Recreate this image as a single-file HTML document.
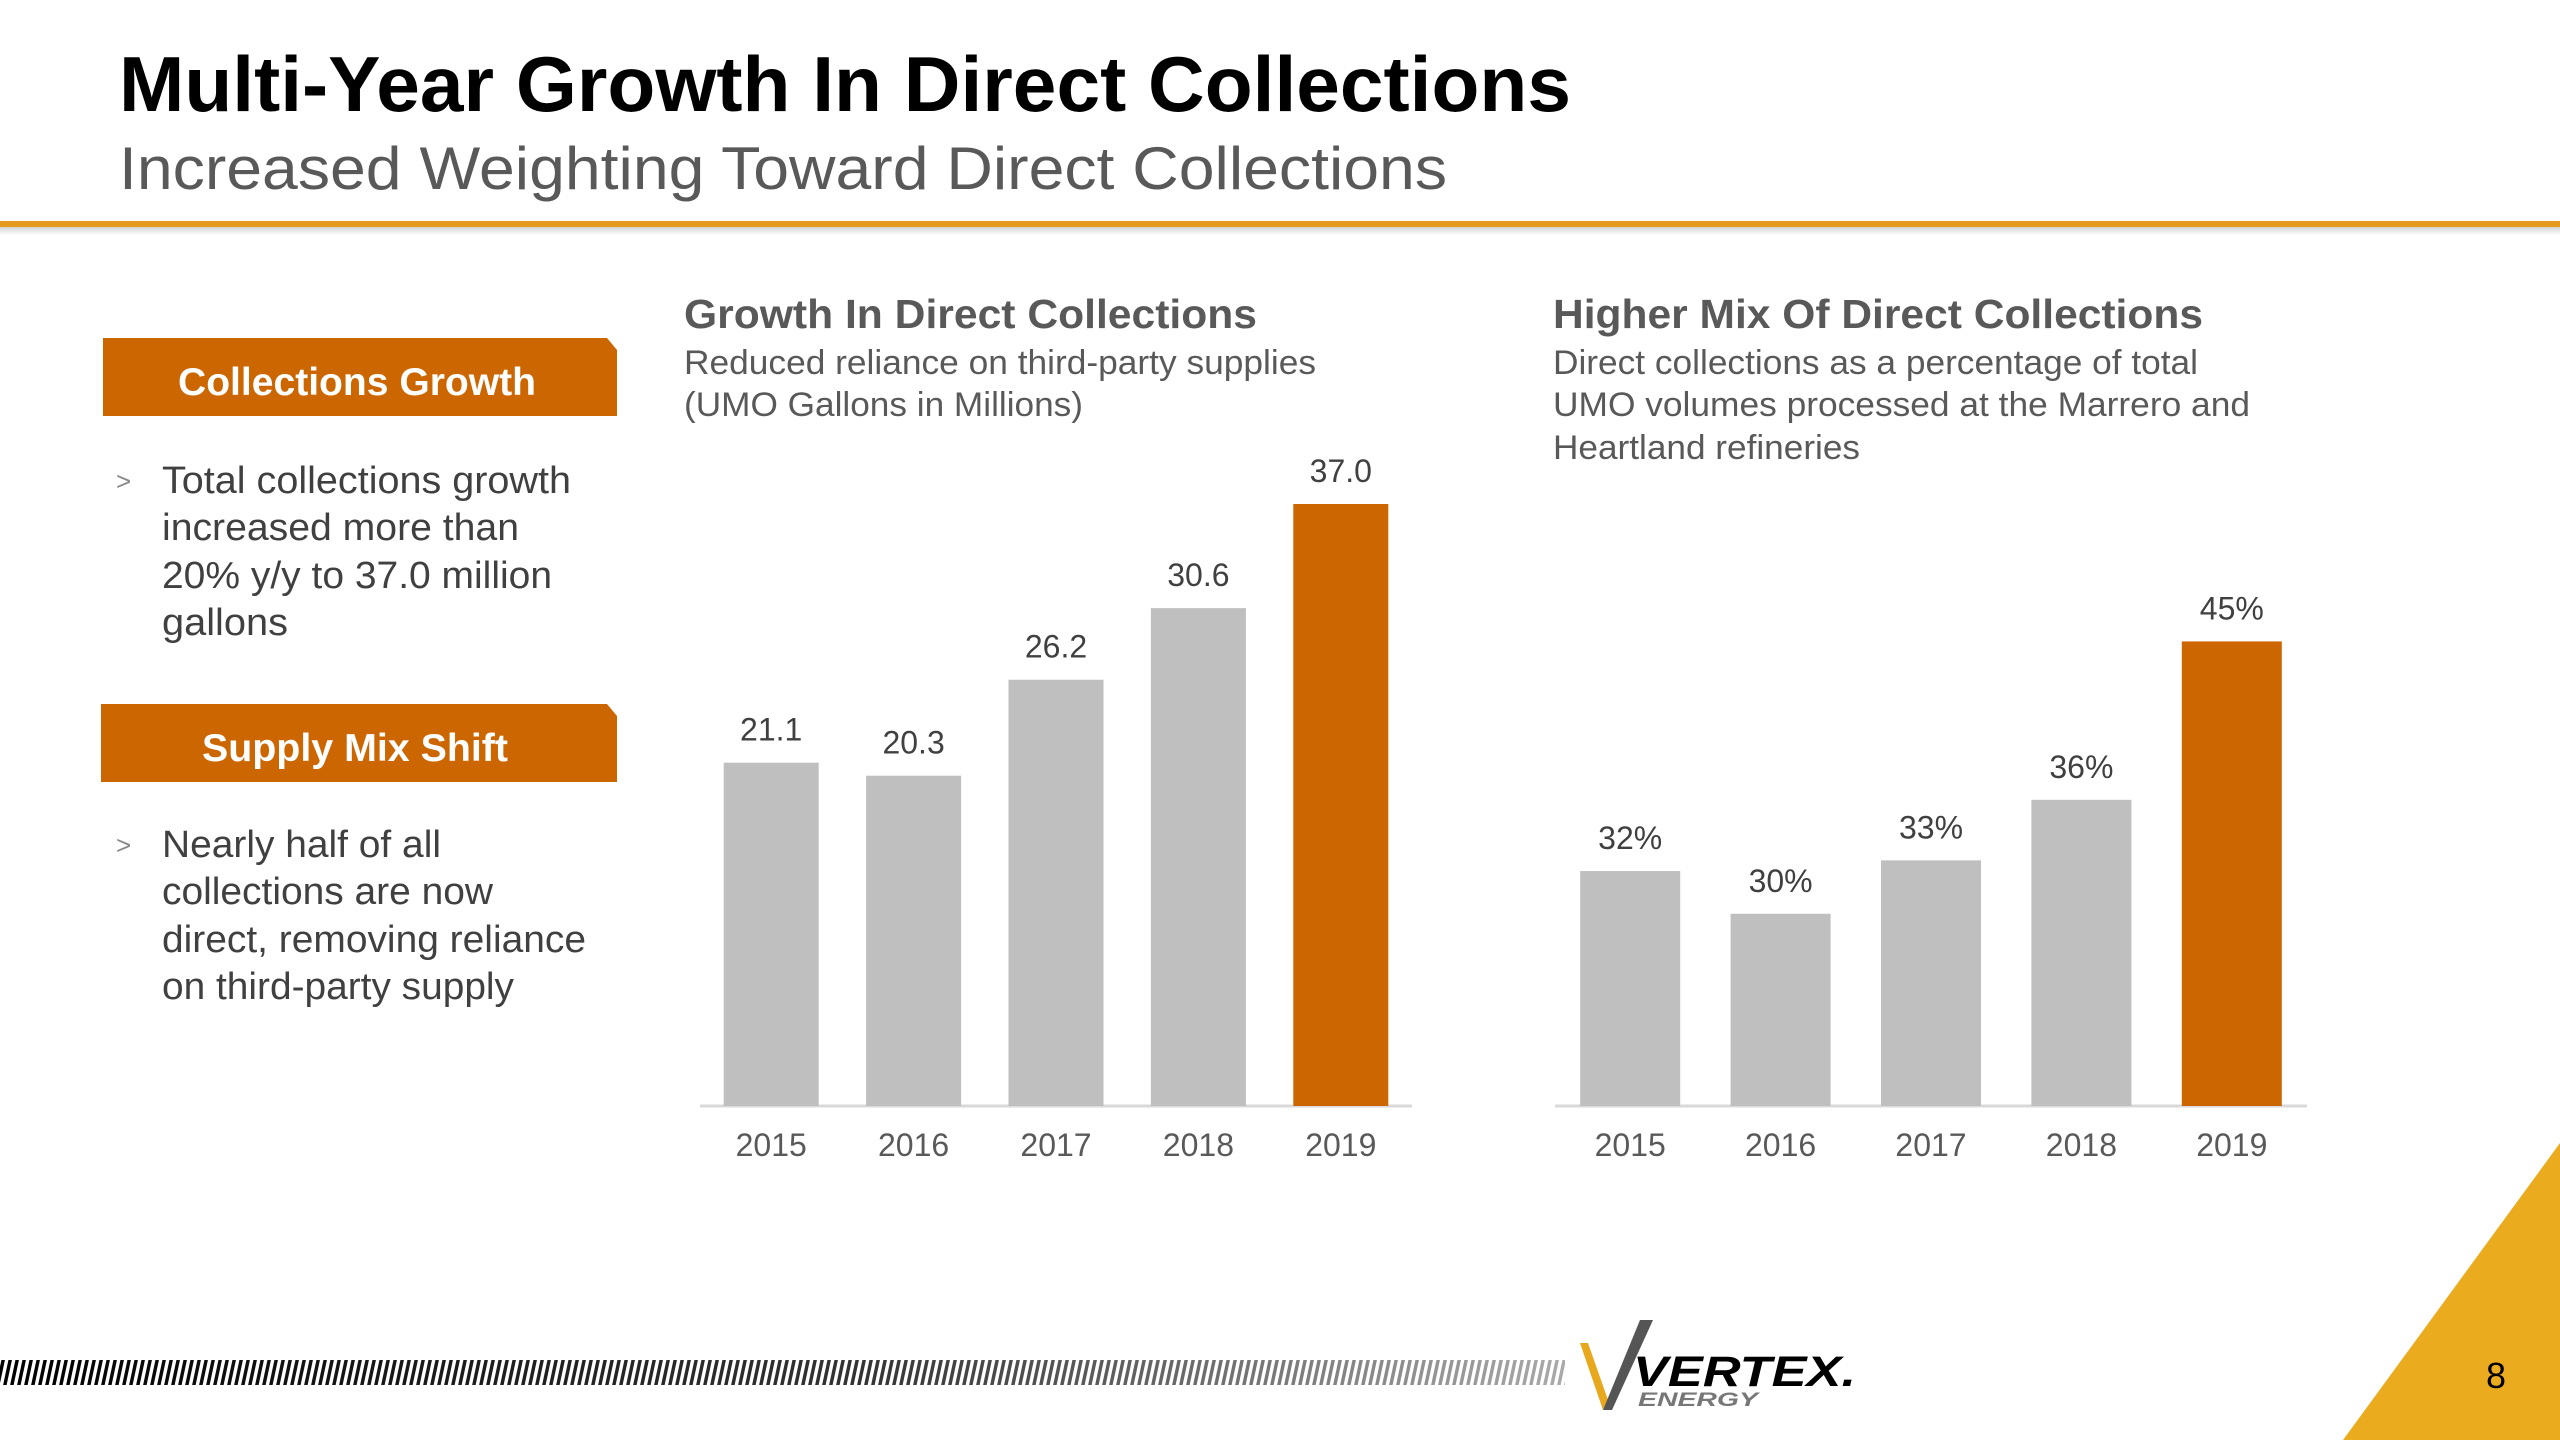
<!DOCTYPE html>
<html><head><meta charset="utf-8"><style>
html,body{margin:0;padding:0;background:#fff;}
svg{display:block;font-family:"Liberation Sans",Arial,sans-serif;}
</style></head><body>
<svg id="page" width="2560" height="1440" viewBox="0 0 2560 1440" xmlns="http://www.w3.org/2000/svg">
<defs>
<linearGradient id="hatchFade" x1="0" x2="1" y1="0" y2="0">
<stop offset="0" stop-color="#000"/><stop offset="0.55" stop-color="#333"/><stop offset="1" stop-color="#aaa"/>
</linearGradient>
<pattern id="hatch" width="7" height="40" patternUnits="userSpaceOnUse" patternTransform="skewX(-12)">
<rect x="0" y="0" width="3.5" height="40" fill="#fff"/>
</pattern>
<linearGradient id="shadow" x1="0" x2="0" y1="0" y2="1"><stop offset="0" stop-color="#000" stop-opacity="0.18"/><stop offset="1" stop-color="#000" stop-opacity="0"/></linearGradient>
</defs>

<text x="119" y="111" font-size="78" font-weight="bold" fill="#000" textLength="1452" lengthAdjust="spacingAndGlyphs">Multi-Year Growth In Direct Collections</text>
<text x="119" y="189" font-size="60" fill="#595959" textLength="1328" lengthAdjust="spacingAndGlyphs">Increased Weighting Toward Direct Collections</text>
<rect x="0" y="221" width="2560" height="6" fill="#E39A1E"/>
<rect x="0" y="227" width="2560" height="8" fill="url(#shadow)"/>

<g>
<path d="M103 338 H607 L617 350 V416 H103 Z" fill="#CC6600"/>
<text x="178" y="395" font-size="39" font-weight="bold" fill="#fff" textLength="358" lengthAdjust="spacingAndGlyphs">Collections Growth</text>
</g>
<g font-size="38" fill="#404040">
<text x="116" y="490" font-size="26" fill="#888">&gt;</text>
<text x="162" y="493" textLength="409" lengthAdjust="spacingAndGlyphs">Total collections growth</text>
<text x="162" y="540" textLength="357" lengthAdjust="spacingAndGlyphs">increased more than</text>
<text x="162" y="588" textLength="390" lengthAdjust="spacingAndGlyphs">20% y/y to 37.0 million</text>
<text x="162" y="635" textLength="126" lengthAdjust="spacingAndGlyphs">gallons</text>
</g>
<g>
<path d="M101 704 H607 L617 716 V782 H101 Z" fill="#CC6600"/>
<text x="202" y="761" font-size="39" font-weight="bold" fill="#fff" textLength="306" lengthAdjust="spacingAndGlyphs">Supply Mix Shift</text>
</g>
<g font-size="38" fill="#404040">
<text x="116" y="854" font-size="26" fill="#888">&gt;</text>
<text x="162" y="857" textLength="279" lengthAdjust="spacingAndGlyphs">Nearly half of all</text>
<text x="162" y="904" textLength="331" lengthAdjust="spacingAndGlyphs">collections are now</text>
<text x="162" y="952" textLength="424" lengthAdjust="spacingAndGlyphs">direct, removing reliance</text>
<text x="162" y="999" textLength="352" lengthAdjust="spacingAndGlyphs">on third-party supply</text>
</g>

<text x="684" y="328" font-size="41" font-weight="bold" fill="#595959" textLength="573" lengthAdjust="spacingAndGlyphs">Growth In Direct Collections</text>
<text x="684" y="374" font-size="34" fill="#595959" textLength="632" lengthAdjust="spacingAndGlyphs">Reduced reliance on third-party supplies</text>
<text x="684" y="416" font-size="34" fill="#595959" textLength="399" lengthAdjust="spacingAndGlyphs">(UMO Gallons in Millions)</text>
<g id="chart1"></g>

<text x="1553" y="328" font-size="41" font-weight="bold" fill="#595959" textLength="650" lengthAdjust="spacingAndGlyphs">Higher Mix Of Direct Collections</text>
<text x="1553" y="374" font-size="34" fill="#595959" textLength="645" lengthAdjust="spacingAndGlyphs">Direct collections as a percentage of total</text>
<text x="1553" y="416" font-size="34" fill="#595959" textLength="697" lengthAdjust="spacingAndGlyphs">UMO volumes processed at the Marrero and</text>
<text x="1553" y="459" font-size="34" fill="#595959" textLength="307" lengthAdjust="spacingAndGlyphs">Heartland refineries</text>
<g id="chart2"></g>

<g>
<rect x="0" y="1360" width="1565" height="25" fill="url(#hatchFade)"/>
<rect x="0" y="1360" width="1565" height="25" fill="url(#hatch)"/>
</g>
<g>
<polygon points="1580,1343 1588,1343 1608,1400 1603,1410" fill="#E8A81E"/>
<polygon points="1640,1320 1653,1320 1612,1410 1603,1410" fill="#555"/>
<text x="1633" y="1386" font-size="43" font-weight="bold" font-style="italic" fill="#000" textLength="223" lengthAdjust="spacingAndGlyphs">VERTEX.</text>
<text x="1638" y="1406" font-size="19" font-weight="bold" font-style="italic" fill="#777" textLength="120" lengthAdjust="spacingAndGlyphs">ENERGY</text>
</g>
<polygon points="2560,1143 2560,1440 2343,1440" fill="#EAAB1E"/>
<text x="2496" y="1388" font-size="36" text-anchor="middle" fill="#000">8</text>
</svg>
<script>
var years1 = ["2015","2016","2017","2018","2019"];
var gallons = [21.1, 20.3, 26.2, 30.6, 37.0];
var gallonLabels = ["21.1","20.3","26.2","30.6","37.0"];
var years2 = ["2015","2016","2017","2018","2019"];
var directPct = [32.2, 29.8, 32.8, 36.2, 45.1];
var pctLabels = ["32%","30%","33%","36%","45%"];

var NS = "http://www.w3.org/2000/svg";
function mk(parent, tag, attrs, text){
  var e = document.createElementNS(NS, tag);
  for (var k in attrs) e.setAttribute(k, attrs[k]);
  if (text !== undefined) e.textContent = text;
  parent.appendChild(e);
  return e;
}
function drawChart(gid, cats, vals, labels, cfg){
  var g = document.getElementById(gid);
  var ax = mk(g, "line", {x1:cfg.x0, x2:cfg.x1, y1:cfg.base, y2:cfg.base, stroke:"#D9D9D9", "stroke-width":3});
  
  
  var step = (cfg.x1 - cfg.x0) / cats.length;
  function xs(i){ return cfg.x0 + step * (i + 0.5); }
  function ys(v){ return cfg.base - (v - cfg.min) * cfg.scale; }
  for (var i = 0; i < cats.length; i++){
    var cx = xs(i), top = ys(vals[i]);
    var last = i === cats.length - 1;
    var b = mk(g, "rect", {x:cx - cfg.bw/2, y:top, width:cfg.bw, height:cfg.base - top, fill: last ? "#CC6600" : "#BFBFBF"});
    
    
    var l = mk(g, "text", {x:cx, y:top - 22, "font-size":32, "text-anchor":"middle", fill:"#404040"}, labels[i]);
    
    
    var t = mk(g, "text", {x:cx, y:cfg.base + 50, "font-size":32, "text-anchor":"middle", fill:"#595959"}, cats[i]);
    
    
  }
}
drawChart("chart1", years1, gallons, gallonLabels, {x0:700, x1:1412, base:1106, min:0, scale:16.27, bw:95});
drawChart("chart2", years2, directPct, pctLabels, {x0:1555, x1:2307, base:1106, min:19, scale:17.8, bw:100});
</script>
</body></html>
